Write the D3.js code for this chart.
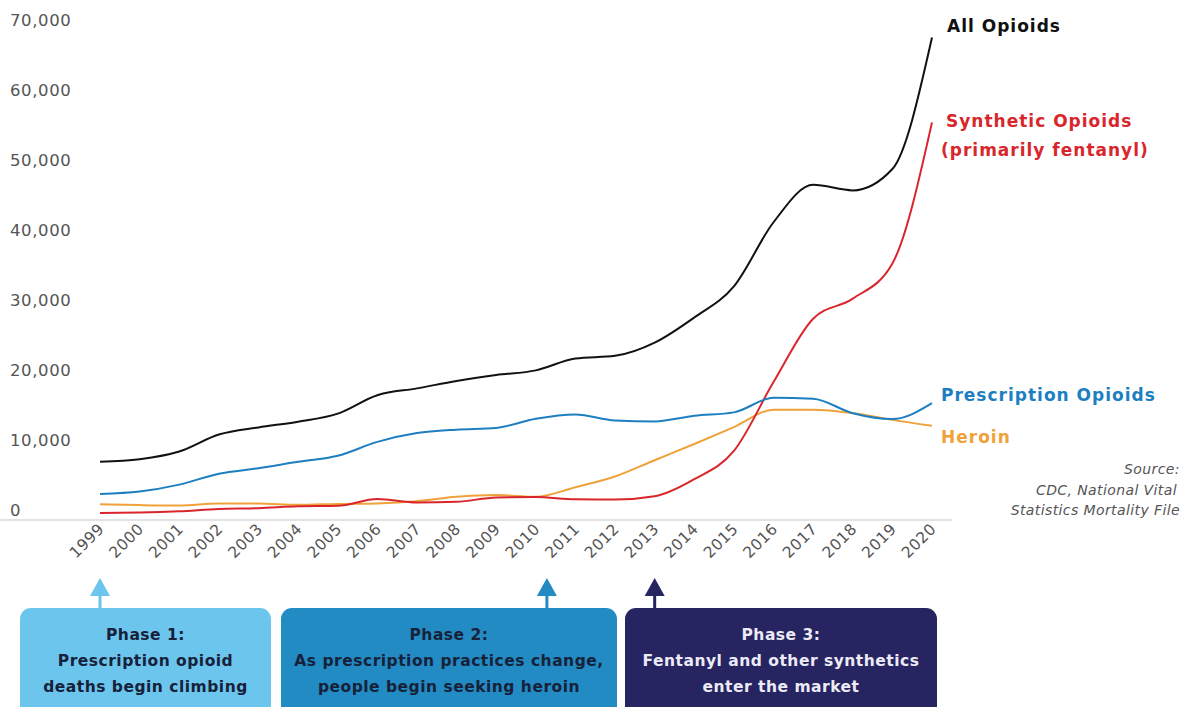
<!DOCTYPE html>
<html>
<head>
<meta charset="utf-8">
<script src="https://cdn.jsdelivr.net/npm/d3@7"></script>
<style>
  body { margin: 0; background: #fff; }
  svg { font-family: 'DejaVu Sans', sans-serif; }
</style>
</head>
<body>
<svg width="1186" height="707"></svg>
<script>
const years = d3.range(1999, 2021);
const allOpioids = [8048, 8407, 9496, 11920, 12940, 13756, 14918, 17545, 18516, 19582, 20422, 21089, 22784, 23166, 25052, 28647, 33091, 42249, 47600, 46802, 49860, 68630];
const synthetic = [730, 782, 957, 1295, 1400, 1664, 1742, 2707, 2213, 2306, 2946, 3007, 2666, 2628, 3105, 5544, 9580, 19413, 28466, 31335, 36359, 56516];
const prescription = [3442, 3785, 4770, 6332, 7108, 8020, 8887, 10871, 12130, 12623, 12871, 14175, 14787, 13930, 13803, 14608, 15090, 17173, 17029, 14975, 14139, 16416];
const heroin = [1960, 1842, 1779, 2089, 2080, 1878, 2009, 2088, 2399, 3041, 3278, 3036, 4397, 5925, 8257, 10574, 12989, 15469, 15482, 14996, 14019, 13165];
const yTicks = [0, 10000, 20000, 30000, 40000, 50000, 60000, 70000];

const seriesNames = ['Heroin', 'Synthetic Opioids', 'Prescription Opioids', 'All Opioids'];
const seriesValues = [heroin, synthetic, prescription, allOpioids];
const seriesColors = ['#f0a23a', '#d9262c', '#1d7fc1', '#111111'];

const phaseTitles = ['Phase 1:', 'Phase 2:', 'Phase 3:'];
const phaseLines = [
  ['Prescription opioid', 'deaths begin climbing'],
  ['As prescription practices change,', 'people begin seeking heroin'],
  ['Fentanyl and other synthetics', 'enter the market']
];
const phaseYears = [1999, 2010.28, 2013];
const phaseColors = ['#6cc5ec', '#238bc3', '#272462'];
const phaseTextColors = ['#16213a', '#16213a', '#ecebf5'];

const svg = d3.select('svg');

const x = d3.scaleLinear().domain([1999, 2020]).range([100, 932]);
const y = d3.scaleLinear().domain([0, 70000]).range([518, 28]);

// baseline
svg.append('line')
  .attr('x1', 0).attr('x2', 952)
  .attr('y1', 520).attr('y2', 520)
  .attr('stroke', '#e3e3e3').attr('stroke-width', 2);

// y labels
svg.append('g').selectAll('text').data(yTicks)
  .enter().append('text')
  .attr('x', 10)
  .attr('y', d => y(d) - 7)
  .attr('dominant-baseline', 'middle')
  .attr('font-size', 16.5)
  .attr('letter-spacing', 0.6)
  .attr('fill', '#555')
  .text(d => d3.format(',')(d));

// x labels
svg.append('g').selectAll('text').data(years)
  .enter().append('text')
  .attr('transform', d => `translate(${x(d) + 5},${530}) rotate(-45)`)
  .attr('text-anchor', 'end')
  .attr('font-size', 15.5)
  .attr('letter-spacing', 0.4)
  .attr('fill', '#555')
  .text(d => d);

// lines
const line = d3.line()
  .x((d, i) => x(years[i]))
  .y(d => y(d))
  .curve(d3.curveMonotoneX);

svg.append('g').selectAll('path').data(seriesValues)
  .enter().append('path')
  .attr('d', d => line(d))
  .attr('fill', 'none')
  .attr('stroke', (d, i) => seriesColors[i])
  .attr('stroke-width', 2);

// series labels
const labelG = svg.append('g').attr('font-weight', 700).attr('font-size', 17).attr('letter-spacing', 1);
labelG.append('text').attr('x', 947).attr('y', 32).attr('fill', '#111').text('All Opioids');
labelG.append('text').attr('x', 946).attr('y', 127).attr('fill', '#d9262c').text('Synthetic Opioids');
labelG.append('text').attr('x', 941).attr('y', 156).attr('fill', '#d9262c').text('(primarily fentanyl)');
labelG.append('text').attr('x', 941).attr('y', 401).attr('fill', '#1d7fc1').text('Prescription Opioids');
labelG.append('text').attr('x', 941).attr('y', 443).attr('fill', '#f0a23a').text('Heroin');

// source
const src = svg.append('g').attr('font-size', 14).attr('font-style', 'italic')
  .attr('fill', '#555').attr('text-anchor', 'end').attr('letter-spacing', 0.4);
src.append('text').attr('x', 1180).attr('y', 474).text('Source:');
src.append('text').attr('x', 1177).attr('y', 495).text('CDC, National Vital');
src.append('text').attr('x', 1180).attr('y', 515).text('Statistics Mortality File');

// phase boxes
const boxX = [[20, 271], [281, 617], [625, 937]];
const boxes = svg.append('g');
phaseTitles.forEach((t, i) => {
  const g = boxes.append('g');
  const ax = x(phaseYears[i]);
  g.append('line')
    .attr('x1', ax).attr('x2', ax)
    .attr('y1', 592).attr('y2', 610)
    .attr('stroke', phaseColors[i]).attr('stroke-width', 3);
  g.append('path')
    .attr('d', `M${ax - 10},${596} L${ax},${578} L${ax + 10},${596} Z`)
    .attr('fill', phaseColors[i]);
  g.append('rect')
    .attr('x', boxX[i][0]).attr('y', 608)
    .attr('width', boxX[i][1] - boxX[i][0]).attr('height', 110)
    .attr('rx', 11)
    .attr('fill', phaseColors[i]);
  const cx = (boxX[i][0] + boxX[i][1]) / 2;
  const tx = g.append('text')
    .attr('text-anchor', 'middle')
    .attr('font-weight', 700)
    .attr('font-size', 15.5)
    .attr('letter-spacing', 0.5)
    .attr('fill', phaseTextColors[i]);
  tx.append('tspan').attr('x', cx).attr('y', 640).text(t);
  phaseLines[i].forEach((l, j) => {
    tx.append('tspan').attr('x', cx).attr('y', 666 + j * 25.5).text(l);
  });
});
</script>
</body>
</html>
